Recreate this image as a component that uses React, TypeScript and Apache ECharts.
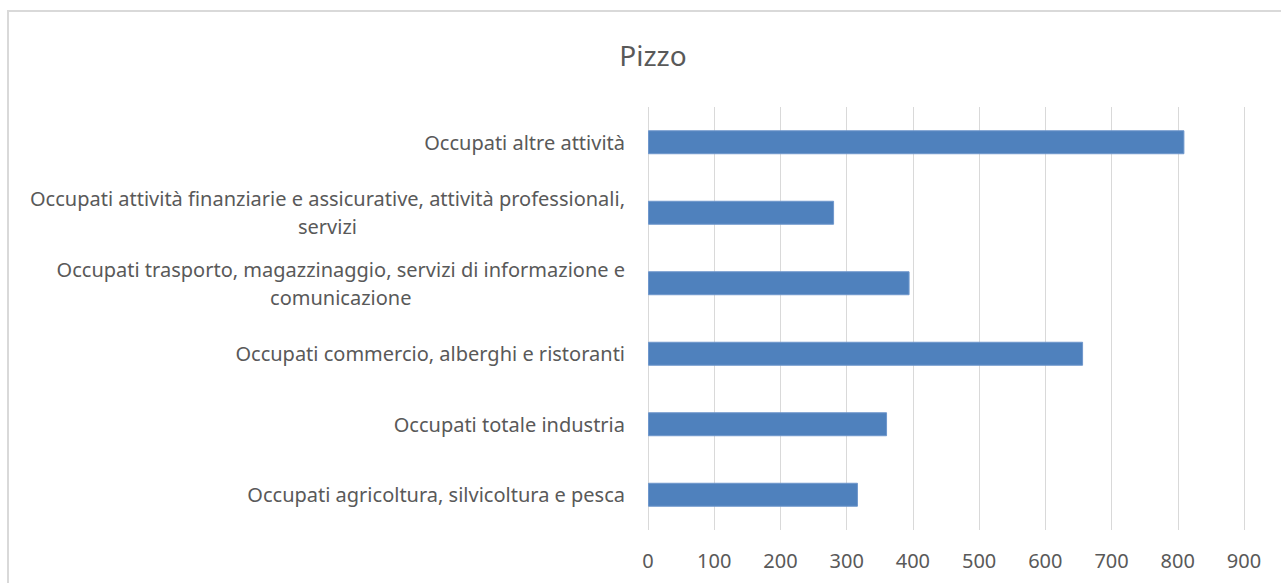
import React, { useEffect, useRef } from "react";
import * as echarts from "echarts";

const categories = [
  "Occupati agricoltura, silvicoltura e pesca",
  "Occupati totale industria",
  "Occupati commercio, alberghi e ristoranti",
  "Occupati trasporto, magazzinaggio, servizi di informazione e\ncomunicazione",
  "Occupati attività finanziarie e assicurative, attività professionali,\nservizi",
  "Occupati altre attività",
];
const values = [317, 361, 657, 395, 281, 810];
const xTicks = [0, 100, 200, 300, 400, 500, 600, 700, 800, 900];
const titleText = "Pizzo";

const FONT = "Noto Sans";

export default function App() {
  const ref = useRef<HTMLDivElement>(null);
  useEffect(() => {
    document.body.style.margin = "0";
    const chart = echarts.init(ref.current!, null, { renderer: "svg" });
    chart.setOption({
      animation: false,
      backgroundColor: "#ffffff",
      title: {
        text: titleText,
        left: 648,
        top: 36,
        textAlign: "center",
        textStyle: { color: "#595959", fontFamily: FONT, fontSize: 28, fontWeight: "normal" },
      },
      graphic: [
        {
          type: "rect",
          shape: { x: 8, y: 11, width: 1400, height: 700 },
          style: { fill: "none", stroke: "#d9d9d9", lineWidth: 2 },
          silent: true,
        },
      ],
      grid: { left: 648, right: 37, top: 107, bottom: 53 },
      xAxis: {
        type: "value",
        min: xTicks[0],
        max: xTicks[xTicks.length - 1],
        interval: 100,
        axisLine: { show: false },
        axisTick: { show: false },
        splitLine: { show: true, lineStyle: { color: "#d9d9d9", width: 1 } },
        axisLabel: { color: "#595959", fontFamily: FONT, fontSize: 20, margin: 20 },
      },
      yAxis: {
        type: "category",
        data: categories,
        axisLine: { show: false },
        axisTick: { show: false },
        splitLine: { show: false },
        axisLabel: {
          margin: 23,
          formatter: (v: string) =>
            v.split("\n").map((l) => "{c|" + l + "}").join("\n"),
          rich: {
            c: {
              color: "#595959",
              fontFamily: FONT,
              fontSize: 20,
              lineHeight: 28,
              align: "center",
            },
          },
        },
      },
      series: [
        {
          type: "bar",
          data: values,
          barWidth: "34%",
          itemStyle: { color: "#4f81bd", borderColor: "#6f97cc", borderWidth: 1 },
        },
      ],
    });
    return () => chart.dispose();
  }, []);
  return <div ref={ref} style={{ width: 1281, height: 583 }} />;
}
